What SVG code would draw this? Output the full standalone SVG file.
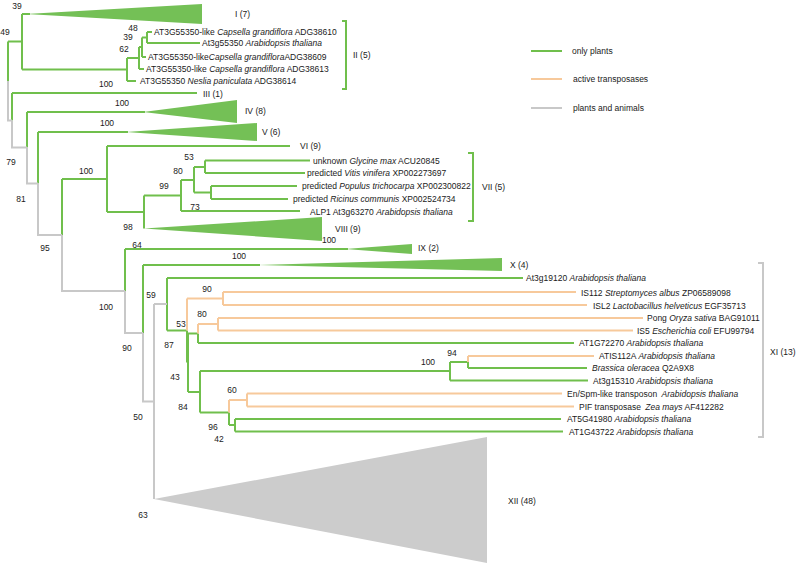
<svg xmlns="http://www.w3.org/2000/svg" width="797" height="565" viewBox="0 0 797 565">
<style>
text{font-family:"Liberation Sans",Arial,sans-serif;font-size:8.5px;fill:#1a1a1a}
.n{text-anchor:middle}
i,.i{font-style:italic}
.g{fill:none;stroke:#70bf4c;stroke-width:2}
.o{fill:none;stroke:#f7c99b;stroke-width:2}
.k{fill:none;stroke:#c8c8c8;stroke-width:2}
.tg{fill:#74c056}
.tk{fill:#cccccc}
</style>
<rect width="797" height="565" fill="#ffffff"/>
<g id="connectors">
<path class="g" d="M8,41.5V81M8,41.5H22M22,14V69.5M22,14H30M22,69.5H127M127,58V81M127,58H139M127,81H136M139,47V69M139,47H142M139,69H144M142,37.5V57M142,37.5H147M142,57H146M147,32V43M147,32H152M147,43H200M12,93V120.5M12,93H197M27,112V147.5M27,112H145M38,132V183.5M38,132H128M62,179V235M62,179H107M107,146V212M107,146H290M107,212H144M144,195.5V228.5M144,195.5H181M181,180V211M181,180H194M181,211H300M194,167V192.5M194,167H205M194,192.5H211M205,160.5V173M205,160.5H310M205,173H305M211,186V199M211,186H297M211,199H288M125,249V291M125,249H348M143,265V333M143,265H260M167,278V330.5M167,278H523M167,330.5H187M187,330.5V362.5M188,333.5V392M188,333.5H198M198,333.5V343M198,343H574M188,392H200M200,371V412.5M200,371H450M450,362V380.5M450,380.5H588M450,362H468M468,362V368M468,368H587M200,412.5H229M229,412.5V425M229,425H235M235,419V431.5M235,419H561M235,431.5H563"/>
<path class="o" d="M187,298.5V330.5M187,298.5H223M223,292V305M223,292H576M223,305H587M198,324V333.5M198,324H218M218,318V330.5M218,318H643M218,330.5H633M468,356V362M468,356H594M229,400V412.5M229,400H247M247,393.5V406.5M247,393.5H562M247,406.5H574"/>
<path class="k" d="M8,81V120.5H12M12,120.5V147.5H27M27,147.5V183.5H38M38,183.5V235H62M62,235V291H125M125,291V333H143M143,333V401.5H154M154,304V499M154,304H167"/>
</g>
<g id="clade-I"><polygon class="tg" points="26,14 202,4 202,24"/><text x="235" y="17">I (7)</text></g>
<g id="clade-II"><path class="g" d="M342,21H346V89H342"/><text x="353" y="58">II (5)</text></g>
<g id="tip-ADG38610"><text x="154" y="35">AT3G55350-like <tspan class="i">Capsella grandiflora</tspan> ADG38610</text></g>
<g id="tip-At3g55350"><text x="202" y="46">At3g55350 <tspan class="i">Arabidopsis thaliana</tspan></text></g>
<g id="tip-ADG38609"><text x="148" y="60">AT3G55350-like<tspan class="i">Capsella grandiflora</tspan>ADG38609</text></g>
<g id="tip-ADG38613"><text x="146" y="72">AT3G55350-like <tspan class="i">Capsella grandiflora</tspan> ADG38613</text></g>
<g id="tip-ADG38614"><text x="140" y="84">AT3G55350 <tspan class="i">Neslia paniculata</tspan> ADG38614</text></g>
<g id="clade-III"><text x="203" y="97">III (1)</text></g>
<g id="clade-IV"><polygon class="tg" points="143,112 237,100 237,123"/><text x="245" y="114">IV (8)</text></g>
<g id="clade-V"><polygon class="tg" points="126,132 257,123 257,141"/><text x="262" y="135">V (6)</text></g>
<g id="clade-VI"><text x="300" y="149">VI (9)</text></g>
<g id="clade-VII"><path class="g" d="M468,153H473V221H468"/><text x="482" y="190">VII (5)</text></g>
<g id="tip-ACU20845"><text x="313" y="164">unknown <tspan class="i">Glycine max</tspan> ACU20845</text></g>
<g id="tip-XP002273697"><text x="307" y="176">predicted <tspan class="i">Vitis vinifera</tspan> XP002273697</text></g>
<g id="tip-XP002300822"><text x="302" y="189">predicted <tspan class="i">Populus trichocarpa</tspan> XP002300822</text></g>
<g id="tip-XP002524734"><text x="293" y="202">predicted <tspan class="i">Ricinus communis</tspan> XP002524734</text></g>
<g id="tip-ALP1"><text x="310" y="215">ALP1 At3g63270 <tspan class="i">Arabidopsis thaliana</tspan></text></g>
<g id="clade-VIII"><polygon class="tg" points="144,228.5 322,217 322,241"/><text x="335" y="232">VIII (9)</text></g>
<g id="clade-IX"><polygon class="tg" points="345,249 412,244 412,254"/><text x="418" y="251">IX (2)</text></g>
<g id="clade-X"><polygon class="tg" points="258,265 502,258 502,271"/><text x="510" y="268">X (4)</text></g>
<g id="clade-XI"><path class="k" d="M758,263H763V437H758"/><text x="770" y="355">XI (13)</text></g>
<g id="tip-At3g19120"><text x="526" y="281">At3g19120 <tspan class="i">Arabidopsis thaliana</tspan></text></g>
<g id="tip-IS112"><text x="581" y="296">IS112 <tspan class="i">Streptomyces albus</tspan> ZP06589098</text></g>
<g id="tip-ISL2"><text x="593" y="309">ISL2 <tspan class="i">Lactobacillus helveticus</tspan> EGF35713</text></g>
<g id="tip-Pong"><text x="647" y="321">Pong <tspan class="i">Oryza sativa</tspan> BAG91011</text></g>
<g id="tip-IS5"><text x="637" y="334">IS5 <tspan class="i">Escherichia coli</tspan> EFU99794</text></g>
<g id="tip-AT1G72270"><text x="579" y="346">AT1G72270 <tspan class="i">Arabidopsis thaliana</tspan></text></g>
<g id="tip-ATIS112A"><text x="599" y="359">ATIS112A <tspan class="i">Arabidopsis thaliana</tspan></text></g>
<g id="tip-Q2A9X8"><text x="592" y="371"><tspan class="i">Brassica oleracea</tspan> Q2A9X8</text></g>
<g id="tip-At3g15310"><text x="593" y="384">At3g15310 <tspan class="i">Arabidopsis thaliana</tspan></text></g>
<g id="tip-EnSpm"><text x="567" y="397">En/Spm-like transposon <tspan class="i" dx="2">Arabidopsis thaliana</tspan></text></g>
<g id="tip-PIF"><text x="579" y="410">PIF transposase <tspan class="i" dx="2">Zea mays</tspan> AF412282</text></g>
<g id="tip-AT5G41980"><text x="567" y="422">AT5G41980 <tspan class="i">Arabidopsis thaliana</tspan></text></g>
<g id="tip-AT1G43722"><text x="569" y="435">AT1G43722 <tspan class="i">Arabidopsis thaliana</tspan></text></g>
<g id="clade-XII"><polygon class="tk" points="154,499 487,437 487,563"/><text x="508" y="504">XII (48)</text></g>
<g id="support">
<text class="n" x="17" y="9">39</text><text class="n" x="5" y="35">49</text><text class="n" x="133" y="31">48</text><text class="n" x="128" y="40">39</text><text class="n" x="124" y="52">62</text><text class="n" x="106" y="87">100</text><text class="n" x="122" y="106">100</text><text class="n" x="107" y="126">100</text><text class="n" x="11" y="165">79</text><text class="n" x="86" y="174">100</text><text class="n" x="189" y="160">53</text><text class="n" x="178" y="174">80</text><text class="n" x="164" y="189">99</text><text class="n" x="195" y="210">73</text><text class="n" x="21" y="202">81</text><text class="n" x="128" y="230">98</text><text class="n" x="329" y="243">100</text><text class="n" x="45" y="251">95</text><text class="n" x="137" y="248">64</text><text class="n" x="239" y="259">100</text><text class="n" x="151" y="298">59</text><text class="n" x="207" y="292">90</text><text class="n" x="202" y="317">80</text><text class="n" x="181" y="327">53</text><text class="n" x="106" y="310">100</text><text class="n" x="169" y="348">87</text><text class="n" x="127" y="351">90</text><text class="n" x="175" y="380">43</text><text class="n" x="232" y="393">60</text><text class="n" x="183" y="410">84</text><text class="n" x="428" y="365">100</text><text class="n" x="452" y="356">94</text><text class="n" x="138" y="420">50</text><text class="n" x="213" y="430">96</text><text class="n" x="219" y="442">42</text><text class="n" x="143" y="518">63</text>
</g>
<g id="legend">
<path class="g" d="M531,51H562"/><text x="572" y="54">only plants</text>
<path class="o" d="M531,79H562"/><text x="573" y="82">active transposases</text>
<path class="k" d="M531,108H562"/><text x="573" y="111">plants and animals</text>
</g>
</svg>
